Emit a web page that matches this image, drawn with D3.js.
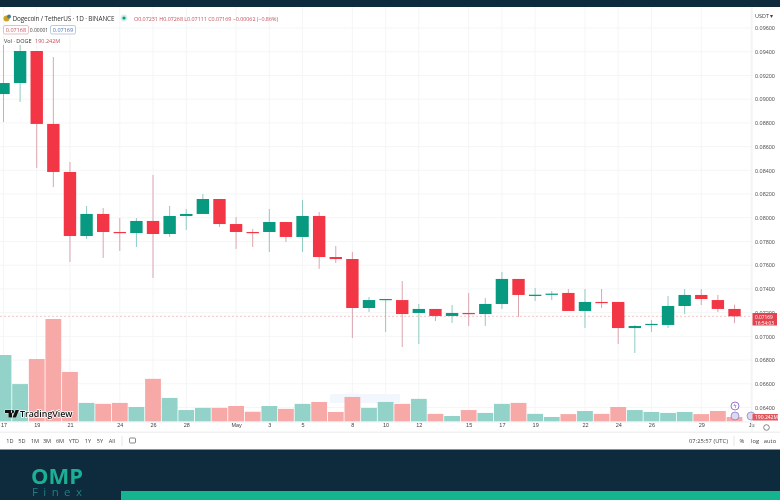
<!DOCTYPE html>
<html>
<head>
<meta charset="utf-8">
<script src="https://cdn.jsdelivr.net/npm/d3@7"></script>
<style>
  html, body { margin: 0; padding: 0; background: #fff; }
  svg { display: block; font-family: "Open Sans", Roboto, sans-serif; filter: blur(0.3px); }
</style>
</head>
<body>
<svg id="chart" width="780" height="500"></svg>
<script>
// daily candles, 17 Apr to 31 May
const opens = [0.09043,0.09136,0.09406,0.08791,0.08386,0.07846,0.08032,0.07880,0.07871,0.07973,0.07863,0.08015,0.08032,0.08158,0.07947,0.07880,0.07880,0.07964,0.07838,0.08015,0.07669,0.07652,0.07239,0.07306,0.07306,0.07197,0.07231,0.07172,0.07197,0.07188,0.07273,0.07484,0.07340,0.07351,0.07366,0.07214,0.07290,0.07290,0.07070,0.07096,0.07096,0.07256,0.07349,0.07306,0.07231];
const highs = [0.09457,0.09457,0.09406,0.09355,0.08470,0.08099,0.08082,0.07998,0.07998,0.08360,0.08099,0.08074,0.08200,0.08158,0.08006,0.07905,0.08074,0.07964,0.08150,0.08049,0.07762,0.07711,0.07332,0.07315,0.07467,0.07273,0.07231,0.07264,0.07366,0.07323,0.07543,0.07484,0.07408,0.07382,0.07399,0.07399,0.07399,0.07290,0.07096,0.07138,0.07340,0.07399,0.07399,0.07349,0.07268];
const lows = [0.08807,0.08976,0.08420,0.08259,0.07627,0.07821,0.07661,0.07720,0.07753,0.07492,0.07838,0.07897,0.08032,0.07922,0.07737,0.07753,0.07711,0.07796,0.07711,0.07568,0.07618,0.06986,0.07205,0.07037,0.06910,0.06935,0.07129,0.07113,0.07087,0.07087,0.07231,0.07163,0.07298,0.07306,0.07214,0.07070,0.07239,0.06935,0.06860,0.07037,0.07070,0.07188,0.07264,0.07205,0.07111];
const closes = [0.09136,0.09406,0.08791,0.08386,0.07846,0.08032,0.07880,0.07871,0.07973,0.07863,0.08015,0.08032,0.08158,0.07947,0.07880,0.07872,0.07964,0.07838,0.08015,0.07669,0.07652,0.07239,0.07306,0.07315,0.07188,0.07231,0.07172,0.07197,0.07190,0.07273,0.07484,0.07349,0.07351,0.07360,0.07214,0.07290,0.07282,0.07070,0.07087,0.07105,0.07256,0.07349,0.07315,0.07231,0.07169];
// volume in millions
const volumes = [2790,1570,2620,4300,2080,780,740,780,610,1790,990,480,570,570,650,410,650,530,740,820,400,1030,570,820,740,950,320,230,480,360,740,780,320,190,310,440,320,610,480,400,360,400,310,440,190.242];

const dayLabels = [[0,"17"],[2,"19"],[4,"21"],[7,"24"],[9,"26"],[11,"28"],[14,"May"],[16,"3"],[18,"5"],[21,"8"],[23,"10"],[25,"12"],[28,"15"],[30,"17"],[32,"19"],[35,"22"],[37,"24"],[39,"26"],[42,"29"],[45,"Ju"]];
const priceTicks = [0.096,0.094,0.092,0.09,0.088,0.086,0.084,0.082,0.08,0.078,0.076,0.074,0.072,0.07,0.068,0.066,0.064];
const rangeButtons = ["1D","5D","1M","3M","6M","YTD","1Y","5Y","All"];
const rangeX = [10,22,35,47,60,74,88,100,112];

const lastPrice = 0.07169;
const UP = "#089981", DOWN = "#f23645";
const UP_WICK = "#8ecbc2", DOWN_WICK = "#dba6ad";
const UP_VOL = "#92d2c8", DOWN_VOL = "#f7a9a7";
const NAVY = "#0e2a3d";

const svg = d3.select("#chart");

const x = d3.scaleLinear().domain([0, 44]).range([3.5, 734.5]);
const y = d3.scaleLinear().domain([0.096, 0.064]).range([28, 407.5]);
const yVol = d3.scaleLinear().domain([0, 4300]).range([421.5, 319]);

svg.append("rect").attr("width", 780).attr("height", 500).attr("fill", "#fff");

// grid
const grid = svg.append("g").attr("stroke", "#f4f5f6").attr("stroke-width", 1);
grid.selectAll(".v").data(dayLabels).join("line")
  .attr("x1", d => x(d[0])).attr("x2", d => x(d[0])).attr("y1", 7).attr("y2", 422);
grid.selectAll(".h").data(priceTicks).join("line")
  .attr("x1", 0).attr("x2", 752).attr("y1", d => y(d)).attr("y2", d => y(d));

// faint tooltip left over on the volume pane
svg.append("rect").attr("x", 330).attr("y", 394).attr("width", 70).attr("height", 9)
  .attr("fill", "#f1f7fd");

// volume
svg.append("g").selectAll("rect").data(volumes).join("rect")
  .attr("x", (d, i) => x(i) - 7.9).attr("width", 15.8)
  .attr("y", d => yVol(d)).attr("height", d => 421.5 - yVol(d))
  .attr("fill", (d, i) => closes[i] >= opens[i] ? UP_VOL : DOWN_VOL);

// last price line
svg.append("line").attr("x1", 0).attr("x2", 752)
  .attr("y1", y(lastPrice)).attr("y2", y(lastPrice))
  .attr("stroke", "#eeb5b5").attr("stroke-width", 0.8).attr("stroke-dasharray", "2 2");

// candles
const candles = svg.append("g").selectAll("g").data(closes).join("g");
candles.append("line")
  .attr("x1", (d, i) => x(i)).attr("x2", (d, i) => x(i))
  .attr("y1", (d, i) => y(highs[i])).attr("y2", (d, i) => y(lows[i]))
  .attr("stroke", (d, i) => d >= opens[i] ? UP_WICK : DOWN_WICK).attr("stroke-width", 1);
candles.append("rect")
  .attr("x", (d, i) => x(i) - 6.2).attr("width", 12.4)
  .attr("y", (d, i) => y(Math.max(d, opens[i])))
  .attr("height", (d, i) => Math.max(1.2, Math.abs(y(d) - y(opens[i]))))
  .attr("fill", (d, i) => d >= opens[i] ? UP : DOWN);

// time axis
const timeAxis = svg.append("g").attr("transform", "translate(0,421.5)")
  .call(d3.axisBottom(x)
    .tickValues(dayLabels.map(d => d[0]))
    .tickFormat(d => dayLabels.find(l => l[0] === d)[1])
    .tickSize(0).tickPadding(2));
timeAxis.select(".domain").remove();
timeAxis.selectAll("text").attr("font-size", 5.5).attr("fill", "#444").attr("font-family", "inherit");

// price axis
const priceAxis = svg.append("g").attr("transform", "translate(752,0)")
  .call(d3.axisRight(y).tickValues(priceTicks).tickFormat(d3.format(".5f")).tickSize(0).tickPadding(3));
priceAxis.select(".domain").remove();
priceAxis.selectAll("text").attr("font-size", 5.5).attr("fill", "#555").attr("font-family", "inherit");

svg.append("line").attr("x1", 752).attr("x2", 752).attr("y1", 7).attr("y2", 432).attr("stroke", "#eeeff1");
svg.append("line").attr("x1", 0).attr("x2", 752).attr("y1", 422).attr("y2", 422).attr("stroke", "#eeeff1");
svg.append("text").attr("x", 755).attr("y", 18).attr("font-size", 5.5).attr("fill", "#444").text("USDT ▾");

// event markers, under the tags
[[735, 406, "#7e57c2", "#fff"], [735, 416, "#8a7fc0", "#dcd8f2"], [751, 416, "#8a8fc8", "#dcd8f2"]].forEach(m => {
  svg.append("circle").attr("cx", m[0]).attr("cy", m[1]).attr("r", 4)
    .attr("fill", m[3]).attr("stroke", m[2]).attr("stroke-width", 0.8);
});
svg.append("text").attr("x", 735).attr("y", 408).attr("text-anchor", "middle")
  .attr("font-size", 5.5).attr("fill", "#7e57c2").text("ϟ");
svg.append("circle").attr("cx", 766.5).attr("cy", 427.5).attr("r", 2.8)
  .attr("fill", "none").attr("stroke", "#555").attr("stroke-width", 0.7);

// last price + volume tags
svg.append("rect").attr("x", 752.5).attr("y", 313).attr("width", 24.5).attr("height", 12.5).attr("fill", "#e3434f");
svg.append("text").attr("x", 755).attr("y", 319.2).attr("font-size", 4.8).attr("fill", "#fff").text("0.07169");
svg.append("text").attr("x", 755).attr("y", 324.6).attr("font-size", 4.8).attr("fill", "#fff").text("16:54:03");
svg.append("rect").attr("x", 752.5).attr("y", 414).attr("width", 25.5).attr("height", 6.5).attr("fill", "#e3575f");
svg.append("text").attr("x", 755).attr("y", 419.3).attr("font-size", 5).attr("fill", "#fff").text("190.242M");

// legend
svg.append("circle").attr("cx", 6.5).attr("cy", 18.5).attr("r", 3).attr("fill", "#c9a227");
svg.append("circle").attr("cx", 9).attr("cy", 16.5).attr("r", 2).attr("fill", "#3b7d9c");
svg.append("text").attr("x", 12.5).attr("y", 20.5).attr("font-size", 6.4).attr("fill", "#333")
  .attr("textLength", 102).text("Dogecoin / TetherUS · 1D · BINANCE");
svg.append("circle").attr("cx", 124).attr("cy", 18).attr("r", 3.4).attr("fill", "#d4efe9");
svg.append("circle").attr("cx", 124).attr("cy", 18).attr("r", 1.6).attr("fill", UP);
svg.append("text").attr("x", 134).attr("y", 20.5).attr("font-size", 5.4).attr("fill", "#c4525c")
  .attr("textLength", 144).text("O0.07231 H0.07268 L0.07111 C0.07169 −0.00062 (−0.86%)");
svg.append("rect").attr("x", 3.5).attr("y", 25.5).attr("width", 25).attr("height", 8.5).attr("rx", 1.5)
  .attr("fill", "#fff").attr("stroke", "#e5a0a6").attr("stroke-width", 0.7);
svg.append("text").attr("x", 16).attr("y", 32).attr("text-anchor", "middle").attr("font-size", 5.5).attr("fill", "#c4525c").text("0.07168");
svg.append("text").attr("x", 39).attr("y", 31.5).attr("text-anchor", "middle").attr("font-size", 5).attr("fill", "#444").text("0.00001");
svg.append("rect").attr("x", 50.5).attr("y", 25.5).attr("width", 25).attr("height", 8.5).attr("rx", 1.5)
  .attr("fill", "#fff").attr("stroke", "#9db4d8").attr("stroke-width", 0.7);
svg.append("text").attr("x", 63).attr("y", 32).attr("text-anchor", "middle").attr("font-size", 5.5).attr("fill", "#3f6fb5").text("0.07169");
svg.append("text").attr("x", 4).attr("y", 43).attr("font-size", 5.5).attr("fill", "#333").text("Vol · DOGE");
svg.append("text").attr("x", 35).attr("y", 43).attr("font-size", 5.5).attr("fill", "#c4525c").text("190.242M");

// watermark
svg.append("path").attr("d", "M5 410h7v7.5h-3.5v-4.5h-3.5z M12.5 417.5l3-7.5h3.5l-3 7.5z M12.5 410a1.6 1.6 0 1 0 .01 0z").attr("fill", "#111")
  .attr("stroke", "#fff").attr("stroke-width", 0.6).attr("paint-order", "stroke");
svg.append("text").attr("x", 20).attr("y", 417).attr("font-size", 8.8).attr("font-weight", 600).attr("fill", "#111")
  .attr("stroke", "#fff").attr("stroke-width", 1.4).attr("paint-order", "stroke").text("TradingView");

// bottom toolbar
svg.append("rect").attr("x", 0).attr("y", 431.5).attr("width", 780).attr("height", 1.5).attr("fill", "#f0f1f3");
svg.append("g").selectAll("text").data(rangeButtons).join("text")
  .attr("x", (d, i) => rangeX[i]).attr("y", 443).attr("text-anchor", "middle")
  .attr("font-size", 5.6).attr("fill", "#444").text(d => d);
svg.append("line").attr("x1", 122).attr("x2", 122).attr("y1", 436).attr("y2", 446).attr("stroke", "#e6e6e6");
svg.append("rect").attr("x", 129.5).attr("y", 438).attr("width", 6).attr("height", 5).attr("rx", 1)
  .attr("fill", "none").attr("stroke", "#555").attr("stroke-width", 0.7);
svg.append("text").attr("x", 689).attr("y", 443).attr("font-size", 5.8).attr("fill", "#444").text("07:25:57 (UTC)");
svg.append("line").attr("x1", 734).attr("x2", 734).attr("y1", 436).attr("y2", 446).attr("stroke", "#e6e6e6");
svg.append("text").attr("x", 742).attr("y", 443).attr("text-anchor", "middle").attr("font-size", 5.8).attr("fill", "#444").text("%");
svg.append("text").attr("x", 755).attr("y", 443).attr("text-anchor", "middle").attr("font-size", 5.8).attr("fill", "#444").text("log");
svg.append("text").attr("x", 770).attr("y", 443).attr("text-anchor", "middle").attr("font-size", 5.8).attr("fill", "#444").text("auto");

// page frame around the screenshot
svg.append("rect").attr("width", 780).attr("height", 7).attr("fill", NAVY);
svg.append("rect").attr("y", 449.5).attr("width", 780).attr("height", 50.5).attr("fill", NAVY);
svg.append("rect").attr("x", 121).attr("y", 491).attr("width", 659).attr("height", 9).attr("fill", "#14b48f");
svg.append("text").attr("x", 31).attr("y", 483.5).attr("font-size", 22).attr("font-weight", 700)
  .attr("fill", "#1bb094").attr("textLength", 52).attr("lengthAdjust", "spacingAndGlyphs").text("OMP");
svg.append("text").attr("x", 32).attr("y", 495.5).attr("font-size", 11.5)
  .attr("fill", "#1f7f82").attr("textLength", 50).text("Finex");
</script>
</body>
</html>
